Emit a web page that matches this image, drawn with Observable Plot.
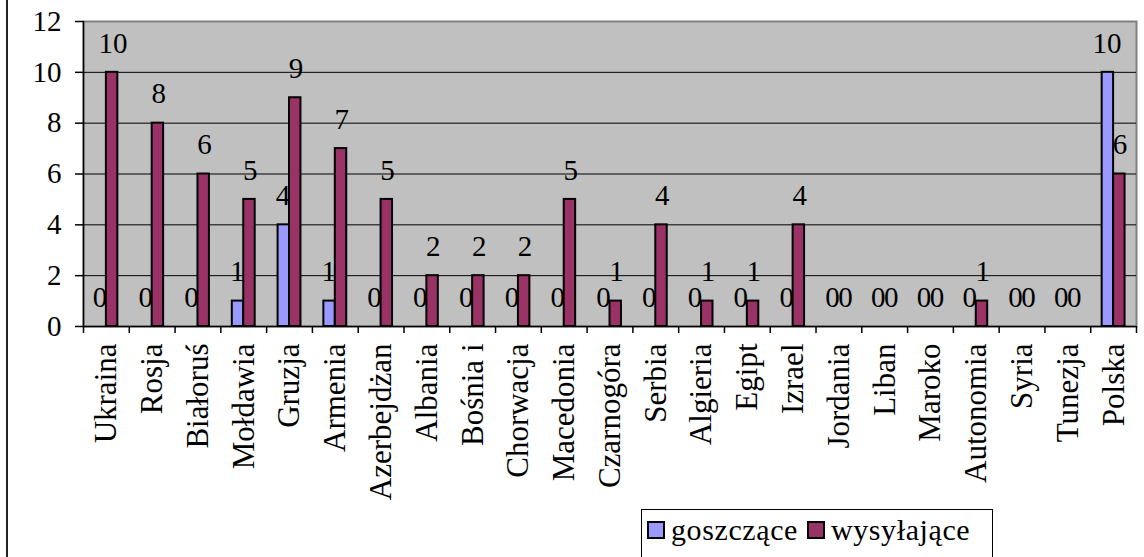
<!DOCTYPE html>
<html>
<head>
<meta charset="utf-8">
<script src="https://cdn.jsdelivr.net/npm/d3@7"></script>
<script src="https://cdn.jsdelivr.net/npm/@observablehq/plot@0.6"></script>
<style>
  html, body { margin: 0; padding: 0; background: #fff; }
  body { position: relative; width: 1144px; height: 557px; overflow: hidden; font-family: "Liberation Serif", "Times New Roman", serif; }
  #frameLine { position: absolute; left: 6px; top: 0; width: 2px; height: 557px; background: #222; }
  #chart { position: absolute; left: 0; top: 0; }
  #chart svg, #chart svg text { font-family: "Liberation Serif", "Times New Roman", serif !important; }
  #legend { position: absolute; left: 641px; top: 509px; width: 352px; height: 60px; border: 1px solid #000; background: #fff; box-sizing: border-box; font-size: 30px; line-height: 34px; letter-spacing: 0.6px; color: #000; padding: 3px 0 0 5px; white-space: nowrap; }
  #legend .sw { display: inline-block; width: 14px; height: 14px; border: 2px solid #000; vertical-align: 1px; margin-right: 6px; }
  #legend .item { margin-right: 9px; }
</style>
</head>
<body>
<div id="frameLine"></div>
<div id="chart"></div>
<div id="legend"></div>
<script>
const countries = ["Ukraina","Rosja","Białoruś","Mołdawia","Gruzja","Armenia","Azerbejdżan","Albania","Bośnia i","Chorwacja","Macedonia","Czarnogóra","Serbia","Algieria","Egipt","Izrael","Jordania","Liban","Maroko","Autonomia","Syria","Tunezja","Polska"];
const goszczace  = [0,0,0,1,4,1,0,0,0,0,0,0,0,0,0,0,0,0,0,0,0,0,10];
const wysylajace = [10,8,6,5,9,7,5,2,2,2,5,1,4,1,1,4,0,0,0,1,0,0,6];
const seriesNames = ["goszczące", "wysyłające"];
const seriesColors = ["#9999FF", "#993366"];
const yTicks = [0,2,4,6,8,10,12];

const W = 1144, H = 505;
const mL = 83, mR = 8, mT = 21, mB = H - 326;
const bw = (W - mL - mR) / countries.length;

const dataG = countries.map((c, i) => ({country: c, value: goszczace[i]}));
const dataW = countries.map((c, i) => ({country: c, value: wysylajace[i]}));

const font = "Liberation Serif";

const chart = Plot.plot({
  width: W, height: H,
  marginLeft: mL, marginRight: mR, marginTop: mT, marginBottom: mB,
  style: "font-family: 'Liberation Serif', serif; background: transparent; overflow: visible;",
  x: {domain: countries, padding: 0, round: false, label: null},
  y: {domain: [0, 12], label: null},
  marks: [
    Plot.frame({fill: "#C0C0C0", stroke: "#808080", strokeWidth: 2}),
    Plot.ruleY(yTicks.filter(d => d > 0 && d < 12), {stroke: "#000", strokeWidth: 1}),
    Plot.text(dataG, {x: "country", y: "value", text: d => String(d.value), dx: -6.5, dy: -29, fontSize: 29, fontFamily: font, fill: "#000", lineAnchor: "middle"}),
    Plot.text(dataW, {x: "country", y: "value", text: d => String(d.value), dx: 6.5, dy: -29, fontSize: 29, fontFamily: font, fill: "#000", lineAnchor: "middle"}),
    Plot.barY(dataG.filter(d => d.value > 0), {x: "country", y: "value", fill: seriesColors[0], stroke: "#000", strokeWidth: 2, insetLeft: bw / 4, insetRight: bw / 2}),
    Plot.barY(dataW.filter(d => d.value > 0), {x: "country", y: "value", fill: seriesColors[1], stroke: "#000", strokeWidth: 2, insetLeft: bw / 2, insetRight: bw / 4}),
    Plot.ruleY([0], {stroke: "#000", strokeWidth: 1.5}),
    Plot.ruleX(countries, {x: d => d, dx: -bw / 2, y1: 0, y2: 0, insetBottom: -7, stroke: "#000", strokeWidth: 1.5}),
    Plot.ruleX([countries[countries.length - 1]], {x: d => d, dx: bw / 2, y1: 0, y2: 0, insetBottom: -7, stroke: "#000", strokeWidth: 1.5}),
    Plot.ruleX([0], {x: () => countries[0], dx: -bw / 2, y1: 0, y2: 12, stroke: "#000", strokeWidth: 1.5}),
    Plot.axisY({ticks: yTicks, tickSize: 8, tickPadding: 14, fontSize: 29, fontFamily: font, stroke: "#000", strokeWidth: 1.5, color: "#000", label: null}),
    Plot.axisX({tickSize: 0, tickRotate: -90, tickPadding: 17, fontSize: 31, fontFamily: font, color: "#000", label: null})
  ]
});
document.getElementById("chart").appendChild(chart);

const legend = document.getElementById("legend");
seriesNames.forEach((name, i) => {
  const span = document.createElement("span");
  span.className = "item";
  const sw = document.createElement("span");
  sw.className = "sw";
  sw.style.background = seriesColors[i];
  span.appendChild(sw);
  span.appendChild(document.createTextNode(name));
  legend.appendChild(span);
});
</script>
</body>
</html>
